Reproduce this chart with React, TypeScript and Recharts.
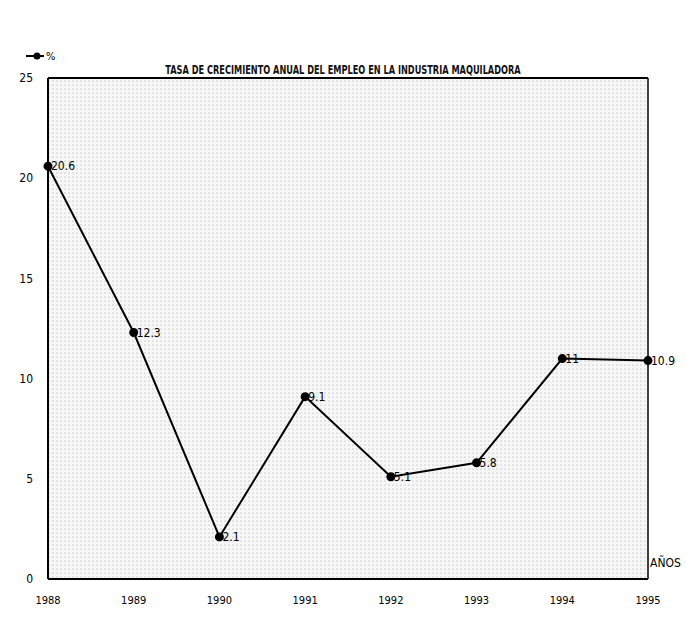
import React from "react";
import {
  LineChart,
  Line,
  XAxis,
  YAxis,
  CartesianGrid,
  LabelList,
  ReferenceLine,
} from "recharts";

const years = ["1988", "1989", "1990", "1991", "1992", "1993", "1994", "1995"];
const growth = [20.6, 12.3, 2.1, 9.1, 5.1, 5.8, 11, 10.9];
const yTicks = [0, 5, 10, 15, 20, 25];

const data = years.map((year, i) => ({ year, value: growth[i] }));

const FONT = "'Liberation Sans Narrow', 'DejaVu Sans Condensed', sans-serif";

const App = () => {
  return (
    <div style={{ position: "absolute", left: 0, top: 0, width: 686, height: 629, background: "#fff" }}>
      <div
        style={{
          position: "absolute",
          left: 0,
          top: 62,
          width: 686,
          textAlign: "center",
          fontFamily: FONT,
          fontWeight: "bold",
          fontSize: 12.5,
          color: "#111",
          transform: "scaleX(0.73)",
          transformOrigin: "343px 0",
        }}
      >
        TASA DE CRECIMIENTO ANUAL DEL EMPLEO EN LA INDUSTRIA MAQUILADORA
      </div>
      {/* legend */}
      <svg style={{ position: "absolute", left: 0, top: 0 }} width={686} height={629} pointerEvents="none">
        <line x1={26} y1={56} x2={44} y2={56} stroke="#000" strokeWidth={2} />
        <circle cx={37} cy={56} r={3.5} fill="#000" />
        <text x={46} y={60} fontFamily={FONT} fontSize={11} fill="#000">%</text>
        <text x={50} y={86} fontFamily={FONT} fontSize={11} fill="#000">PO</text>
        <text x={650} y={567} fontFamily={FONT} fontSize={12} fill="#000">AÑOS</text>
      </svg>
      <LineChart
        width={686}
        height={629}
        data={data}
        margin={{ top: 78, right: 38, bottom: 20, left: 8 }}
      >
        <defs>
          <pattern id="dots" width="4" height="4" patternUnits="userSpaceOnUse">
            <rect width="4" height="4" fill="#f7f7f7" />
            <circle cx="1" cy="1" r="0.6" fill="#a0a0a0" />
          </pattern>
        </defs>
        <CartesianGrid horizontal={false} vertical={false} fill="url(#dots)" />
        <XAxis
          dataKey="year"
          axisLine={{ stroke: "#000", strokeWidth: 2 }}
          tickLine={false}
          tickSize={0}
          tickMargin={17}
          height={30}
          interval={0}
          tick={{ fontFamily: FONT, fontSize: 11, fill: "#000" }}
        />
        <YAxis
          domain={[0, 25]}
          ticks={yTicks}
          width={40}
          axisLine={{ stroke: "#000", strokeWidth: 2 }}
          tickLine={false}
          tickSize={0}
          tickMargin={15}
          tick={{ fontFamily: FONT, fontSize: 12, fill: "#000" }}
        />
        <ReferenceLine y={25} stroke="#000" strokeWidth={2} />
        <ReferenceLine x="1995" stroke="#000" strokeWidth={1.5} />
        <Line
          type="linear"
          dataKey="value"
          stroke="#000"
          strokeWidth={2}
          dot={{ r: 3.5, fill: "#000", stroke: "#000" }}
          isAnimationActive={false}
        >
          <LabelList
            dataKey="value"
            position="right"
            offset={3}
            style={{ fontFamily: FONT, fontSize: 12, fill: "#000" }}
          />
        </Line>
      </LineChart>
    </div>
  );
};

export default App;
